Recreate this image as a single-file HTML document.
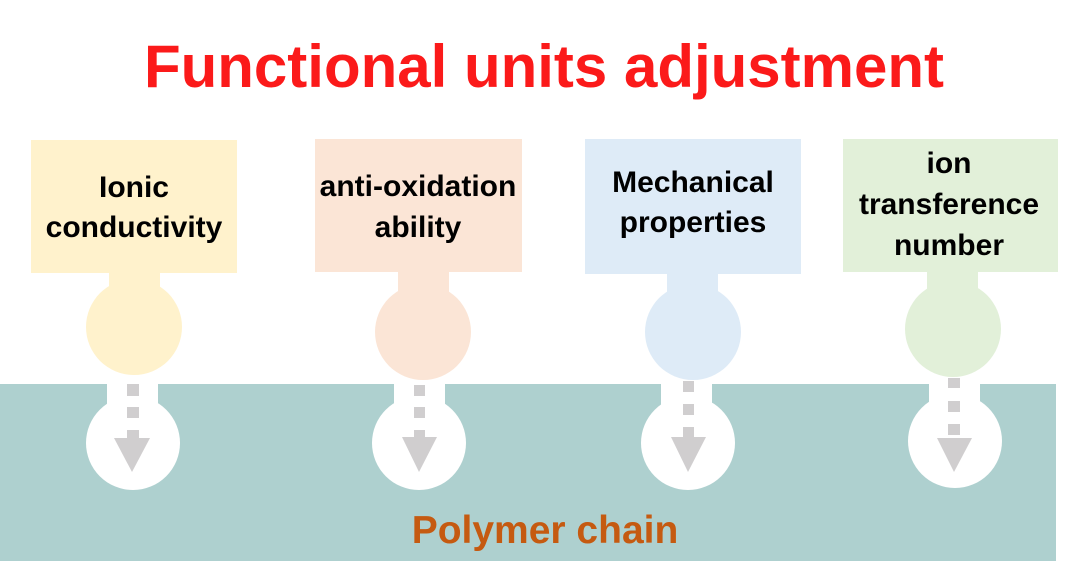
<!DOCTYPE html>
<html>
<head>
<meta charset="utf-8">
<style>
  html, body { margin: 0; padding: 0; background: #ffffff; }
  body { width: 1080px; height: 583px; overflow: hidden; }
  svg { display: block; }
  text { font-family: "Liberation Sans", Arial, sans-serif; font-weight: bold; }
</style>
</head>
<body>
<svg width="1080" height="583" viewBox="0 0 1080 583" xmlns="http://www.w3.org/2000/svg">
  <rect x="0" y="0" width="1080" height="583" fill="#ffffff"/>

  <!-- Title -->
  <text x="544" y="87" font-size="60" fill="#fb1a1a" text-anchor="middle">Functional units adjustment</text>

  <!-- Polymer chain band -->
  <rect x="0" y="384" width="1056" height="177" fill="#aed0cf"/>

  <!-- White sockets in band -->
  <g fill="#ffffff">
    <rect x="107" y="384" width="51" height="40"/>
    <circle cx="133" cy="443" r="47"/>
    <rect x="394" y="384" width="51" height="40"/>
    <circle cx="419" cy="443" r="47"/>
    <rect x="661" y="384" width="51" height="40"/>
    <circle cx="688" cy="443" r="47"/>
    <rect x="929" y="384" width="51" height="40"/>
    <circle cx="955" cy="441" r="47"/>
  </g>

  <!-- Box 1 -->
  <rect x="31" y="140" width="206" height="133" fill="#fff2cc"/>
  <rect x="109" y="272" width="51" height="30" fill="#fff2cc"/>
  <circle cx="134" cy="327" r="48" fill="#fff2cc"/>
  <text x="134" y="197" font-size="30" fill="#000" text-anchor="middle">Ionic</text>
  <text x="134" y="237" font-size="30" fill="#000" text-anchor="middle">conductivity</text>

  <!-- Box 2 -->
  <rect x="315" y="139" width="207" height="133" fill="#fbe5d6"/>
  <rect x="398" y="271" width="51" height="35" fill="#fbe5d6"/>
  <circle cx="423" cy="332" r="48" fill="#fbe5d6"/>
  <text x="418" y="196" font-size="30" fill="#000" text-anchor="middle">anti-oxidation</text>
  <text x="418" y="237" font-size="30" fill="#000" text-anchor="middle">ability</text>

  <!-- Box 3 -->
  <rect x="585" y="139" width="216" height="135" fill="#deebf7"/>
  <rect x="667" y="273" width="51" height="35" fill="#deebf7"/>
  <circle cx="693" cy="332" r="48" fill="#deebf7"/>
  <text x="693" y="192" font-size="30" fill="#000" text-anchor="middle">Mechanical</text>
  <text x="693" y="232" font-size="30" fill="#000" text-anchor="middle">properties</text>

  <!-- Box 4 -->
  <rect x="843" y="139" width="215" height="133" fill="#e2f0d9"/>
  <rect x="927" y="271" width="51" height="35" fill="#e2f0d9"/>
  <circle cx="953" cy="329" r="48" fill="#e2f0d9"/>
  <text x="949" y="173" font-size="30" fill="#000" text-anchor="middle">ion</text>
  <text x="949" y="214" font-size="30" fill="#000" text-anchor="middle">transference</text>
  <text x="949" y="255" font-size="30" fill="#000" text-anchor="middle">number</text>

  <!-- Dashed arrows -->
  <g fill="#d0cecf">
    <!-- arrow 1 -->
    <rect x="127" y="384" width="12" height="12"/>
    <rect x="127" y="407" width="12" height="11"/>
    <rect x="127" y="430" width="12" height="9"/>
    <polygon points="114,438 150,438 132,472"/>
    <!-- arrow 2 -->
    <rect x="414" y="385" width="11" height="11"/>
    <rect x="414" y="407" width="11" height="11"/>
    <rect x="414" y="430" width="11" height="8"/>
    <polygon points="402,437 437,437 419,472"/>
    <!-- arrow 3 -->
    <rect x="683" y="381" width="11" height="11"/>
    <rect x="683" y="404" width="11" height="11"/>
    <rect x="683" y="427" width="11" height="11"/>
    <polygon points="671,437 706,437 688,472"/>
    <!-- arrow 4 -->
    <rect x="948" y="378" width="12" height="10"/>
    <rect x="948" y="401" width="12" height="11"/>
    <rect x="948" y="424" width="12" height="11"/>
    <polygon points="937,438 972,438 954,472"/>
  </g>

  <!-- Polymer chain label -->
  <text x="545" y="543" font-size="39" fill="#c55a11" text-anchor="middle">Polymer chain</text>
</svg>
</body>
</html>
